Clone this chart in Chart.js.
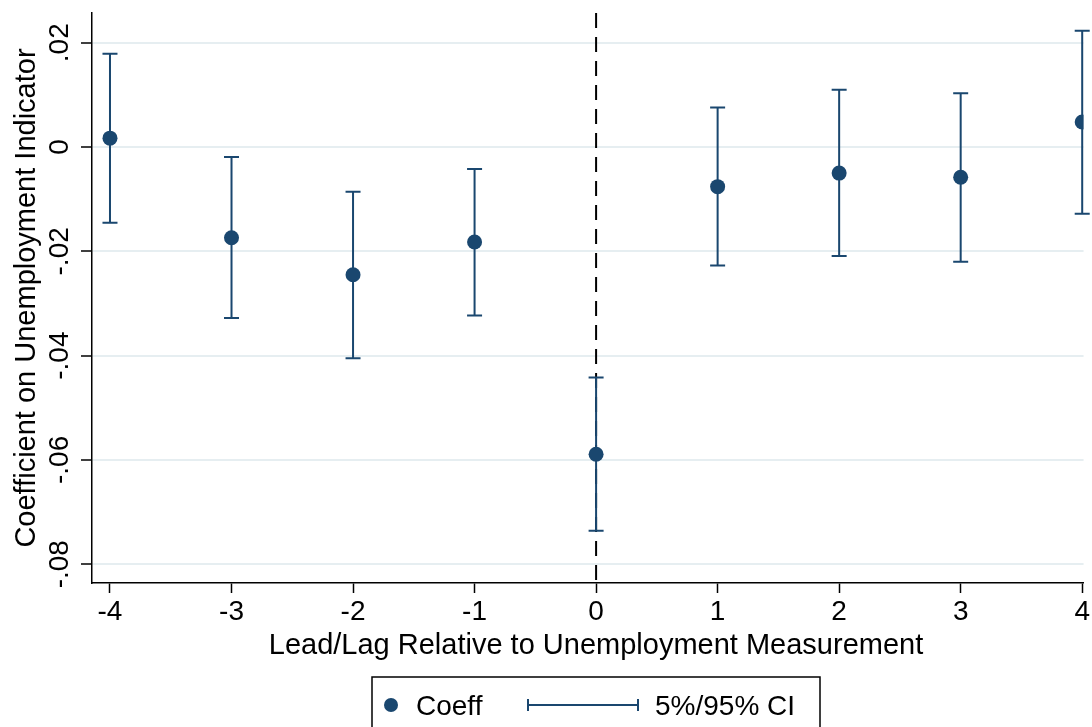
<!DOCTYPE html>
<html>
<head>
<meta charset="utf-8">
<script src="https://cdn.jsdelivr.net/npm/chart.js@4"></script>
<style>
  html, body { margin: 0; padding: 0; background: #fff; }
  #wrap { width: 1092px; height: 727px; position: relative; }
</style>
</head>
<body>
<div id="wrap"><canvas id="coefChart"></canvas></div>
<script>
// lead/lag periods and estimates
const leads = [-4, -3, -2, -1, 0, 1, 2, 3, 4];
const coeff = [0.0017, -0.0174, -0.0245, -0.0182, -0.0589, -0.0076, -0.0050, -0.0058, 0.0048];
const ciLow = [-0.0145, -0.0328, -0.0405, -0.0323, -0.0736, -0.0227, -0.0209, -0.0220, -0.0128];
const ciHigh = [0.0179, -0.0019, -0.0086, -0.0042, -0.0442, 0.0076, 0.0110, 0.0103, 0.0223];

const xTicks = [-4, -3, -2, -1, 0, 1, 2, 3, 4];
const yTicks = [0.02, 0, -0.02, -0.04, -0.06, -0.08];
const yTickLabels = ['.02', '0', '-.02', '-.04', '-.06', '-.08'];

const navy = '#1a476f';
const font = '"Liberation Sans", Arial, Helvetica, sans-serif';

document.addEventListener("DOMContentLoaded", function() {
    const ctx = document.getElementById('coefChart').getContext('2d');

    // CI whiskers, vertical reference line, rotated y labels, titles, legend
    const extras = {
        id: 'extras',
        beforeDatasetsDraw(chart) {
            const c = chart.ctx;
            const xs = chart.scales.x, ys = chart.scales.y;
            const area = chart.chartArea;

            // dashed line at 0
            const x0 = xs.getPixelForValue(0);
            c.save();
            c.strokeStyle = '#000';
            c.lineWidth = 2;
            c.setLineDash([15, 9]);
            c.beginPath();
            c.moveTo(x0, area.top);
            c.lineTo(x0, area.bottom);
            c.stroke();
            c.restore();

            // error bars
            c.save();
            c.strokeStyle = navy;
            c.lineWidth = 2;
            leads.forEach((v, i) => {
                const px = xs.getPixelForValue(v);
                const lo = ys.getPixelForValue(ciLow[i]);
                const hi = ys.getPixelForValue(ciHigh[i]);
                c.beginPath();
                c.moveTo(px, lo); c.lineTo(px, hi);
                c.moveTo(px - 7.5, lo); c.lineTo(px + 7.5, lo);
                c.moveTo(px - 7.5, hi); c.lineTo(px + 7.5, hi);
                c.stroke();
            });
            c.restore();
        },
        afterDraw(chart) {
            const c = chart.ctx;
            const ys = chart.scales.y;

            c.save();
            c.fillStyle = '#000';
            c.font = '28px ' + font;
            c.textAlign = 'center';
            c.textBaseline = 'alphabetic';

            // y tick labels, rotated
            yTicks.forEach((v, i) => {
                c.save();
                c.translate(68, ys.getPixelForValue(v));
                c.rotate(-Math.PI / 2);
                c.fillText(yTickLabels[i], 0, 0);
                c.restore();
            });

            // axis titles
            c.font = '29px ' + font;
            c.save();
            c.translate(35, 298);
            c.rotate(-Math.PI / 2);
            c.fillText('Coefficient on Unemployment Indicator', 0, 0);
            c.restore();

            c.fillText('Lead/Lag Relative to Unemployment Measurement', 596, 654);

            // legend
            c.font = '28px ' + font;
            c.lineWidth = 1.5;
            c.strokeStyle = '#000';
            c.strokeRect(372, 677, 448, 70);

            c.fillStyle = navy;
            c.beginPath();
            c.arc(391, 705, 7, 0, Math.PI * 2);
            c.fill();

            c.strokeStyle = navy;
            c.lineWidth = 2;
            c.beginPath();
            c.moveTo(528, 705); c.lineTo(638, 705);
            c.moveTo(528, 699); c.lineTo(528, 711);
            c.moveTo(638, 699); c.lineTo(638, 711);
            c.stroke();

            c.fillStyle = '#000';
            c.textAlign = 'left';
            c.fillText(chart.data.datasets[0].label, 416, 715);
            c.fillText(chart.data.datasets[1].label, 655, 715);
            c.restore();
        }
    };

    new Chart(ctx, {
        type: 'scatter',
        data: {
            datasets: [{
                label: 'Coeff',
                data: leads.map((v, i) => ({ x: v, y: coeff[i] })),
                backgroundColor: navy,
                borderColor: navy,
                pointRadius: 7.5,
                pointHoverRadius: 7.5,
                borderWidth: 0
            }, {
                label: '5%/95% CI',
                data: [],
                pointRadius: 0
            }]
        },
        options: {
            responsive: true,
            maintainAspectRatio: false,
            animation: false,
            layout: { padding: { left: 0, right: 0, top: 13, bottom: 0 } },
            plugins: {
                legend: { display: false },
                tooltip: { enabled: false }
            },
            scales: {
                x: {
                    type: 'linear',
                    min: -4.148,
                    max: 4.011,
                    afterBuildTicks: s => { s.ticks = xTicks.map(v => ({ value: v })); },
                    afterFit: s => { s.height = 144; },
                    grid: {
                        drawOnChartArea: false,
                        drawTicks: true,
                        tickLength: 10,
                        tickColor: '#000',
                        tickWidth: 1.5
                    },
                    border: { color: '#000', width: 1.5 },
                    ticks: {
                        color: '#000',
                        font: { family: font, size: 28 },
                        padding: 2,
                        maxRotation: 0,
                        callback: v => String(v)
                    }
                },
                y: {
                    min: -0.0836,
                    max: 0.0257,
                    afterBuildTicks: s => { s.ticks = yTicks.map(v => ({ value: v })); },
                    afterFit: s => { s.width = 92; },
                    grid: {
                        color: '#e6eef1',
                        lineWidth: 2,
                        drawTicks: true,
                        tickLength: 11,
                        tickColor: '#000',
                        tickWidth: 1.5
                    },
                    border: { color: '#000', width: 1.5 },
                    ticks: { display: false }
                }
            }
        },
        plugins: [extras]
    });
});
</script>
</body>
</html>
